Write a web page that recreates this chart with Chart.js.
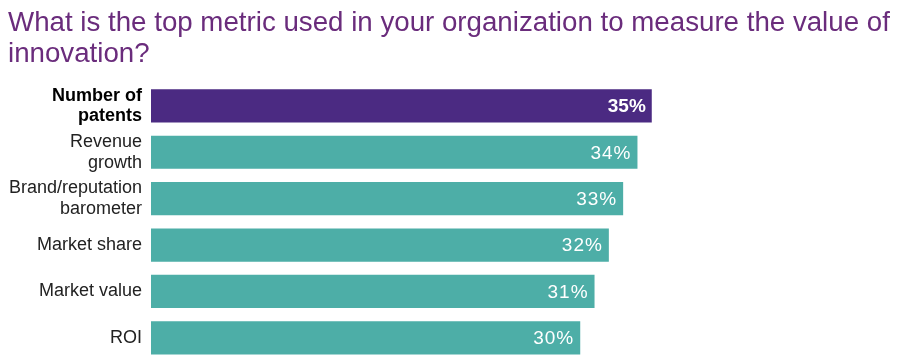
<!DOCTYPE html>
<html>
<head>
  <title>Innovation metric</title>
  <script src="https://cdn.jsdelivr.net/npm/chart.js"></script>
  <style>
    body { margin: 0; background: #fff; }
    .wrap { width: 900px; height: 361px; position: relative; }
  </style>
</head>
<body>
  <div class="wrap"><canvas id="metricChart"></canvas></div>

  <script>
    const titleLines = ['What is the top metric used in your organization to measure the value of', 'innovation?'];
    const categories = [['Number of', 'patents'], ['Revenue', 'growth'], ['Brand/reputation', 'barometer'], 'Market share', 'Market value', 'ROI'];
    const values = [35, 34, 33, 32, 31, 30];
    const highlight = 0;

    const purple = '#4b2a82';
    const teal = '#4daea7';

    // draws the "35%" labels inside the bar ends
    const valueLabels = {
      id: 'valueLabels',
      afterDatasetsDraw(chart) {
        const ctx = chart.ctx;
        const meta = chart.getDatasetMeta(0);
        ctx.save();
        ctx.fillStyle = '#fff';
        ctx.textAlign = 'right';
        ctx.textBaseline = 'middle';
        meta.data.forEach((bar, i) => {
          ctx.font = (i === highlight ? 'bold ' : '') + '19px "Liberation Sans", Arial, sans-serif';
          ctx.letterSpacing = i === highlight ? '0px' : '1px';
          ctx.fillText(values[i] + '%', bar.x - 6, bar.y + 1);
        });
        ctx.restore();
      }
    };

    new Chart(document.getElementById('metricChart'), {
      type: 'bar',
      data: {
        labels: categories,
        datasets: [{
          data: values,
          backgroundColor: values.map((v, i) => i === highlight ? purple : teal),
          barPercentage: 0.715,
          categoryPercentage: 1
        }]
      },
      options: {
        indexAxis: 'y',
        responsive: true,
        maintainAspectRatio: false,
        animation: false,
        layout: { padding: { left: 8, right: 5, top: 0, bottom: 0 } },
        plugins: {
          legend: { display: false },
          tooltip: { enabled: false },
          title: {
            display: true,
            text: titleLines,
            align: 'start',
            color: '#6a2c7c',
            font: { family: '"Liberation Sans", Arial, sans-serif', size: 27.7, weight: 'normal', lineHeight: 1.15 },
            padding: { top: 7, bottom: 12 }
          }
        },
        scales: {
          x: { display: false, min: 0, max: 52 },
          y: {
            grid: { display: false, drawTicks: false },
            border: { display: false },
            afterFit(scale) {
              scale.width = 143;
              scale.paddingTop = 0;
              scale.paddingBottom = 0;
            },
            ticks: {
              padding: 9,
              color: ctx => ctx.index === highlight ? '#000' : '#222',
              font: ctx => ({
                family: '"Liberation Sans", Arial, sans-serif',
                size: 18,
                weight: ctx.index === highlight ? 'bold' : 'normal',
                lineHeight: 1.14
              })
            }
          }
        }
      },
      plugins: [valueLabels]
    });
  </script>
</body>
</html>
